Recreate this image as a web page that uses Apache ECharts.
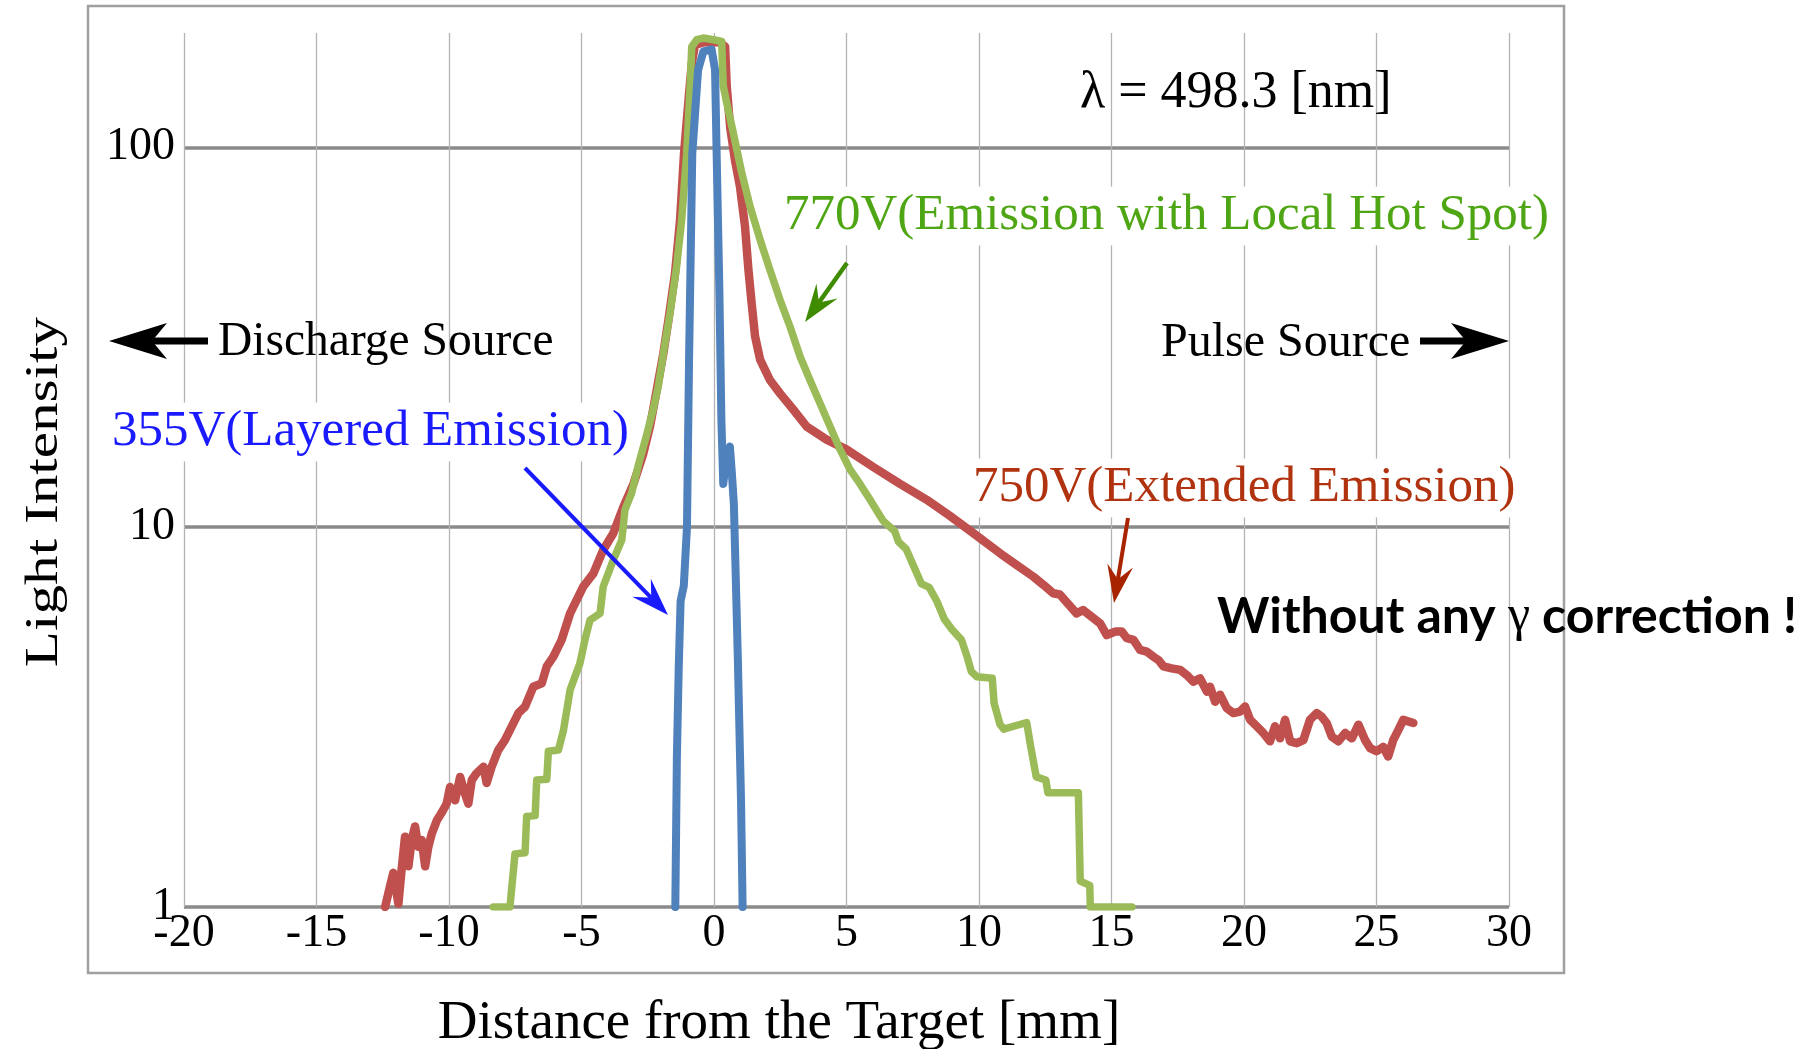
<!DOCTYPE html>
<html>
<head>
<meta charset="utf-8">
<title>Light Intensity vs Distance from the Target</title>
<script src="https://cdn.jsdelivr.net/npm/echarts@6/dist/echarts.min.js"></script>
<style>
  html, body { margin: 0; padding: 0; background: #fff; }
  #chart { width: 1807px; height: 1049px; }
</style>
</head>
<body>
<div id="chart"></div>
<script>
// distance from the target [mm] / light intensity (log scale)
const xRange = [-20, 30];
const xStep = 5;
const yRange = [1, 200];
const yTicks = [1, 10, 100];

// 750V (Extended Emission)
const red750 = [
  [-12.41, 1.00], [-12.23, 1.13], [-12.10, 1.23], [-11.91, 1.02], [-11.79, 1.25],
  [-11.66, 1.53], [-11.53, 1.28], [-11.41, 1.50], [-11.28, 1.63], [-11.16, 1.44],
  [-11.03, 1.50], [-10.90, 1.28], [-10.78, 1.44], [-10.65, 1.56], [-10.46, 1.69],
  [-10.28, 1.77], [-10.09, 1.87], [-9.96, 2.07], [-9.77, 1.91], [-9.58, 2.20],
  [-9.40, 1.99], [-9.27, 1.87], [-9.14, 2.16], [-8.96, 2.25], [-8.70, 2.34],
  [-8.58, 2.12], [-8.39, 2.34], [-8.14, 2.59], [-7.89, 2.75], [-7.63, 2.99],
  [-7.38, 3.24], [-7.13, 3.37], [-6.82, 3.80], [-6.50, 3.88], [-6.31, 4.30],
  [-6.06, 4.56], [-5.75, 5.05], [-5.43, 5.93], [-4.93, 6.98], [-4.55, 7.56],
  [-4.18, 8.71], [-3.80, 9.64], [-3.42, 11.3], [-3.04, 13.0], [-2.67, 15.6],
  [-2.41, 18.5], [-2.16, 23.0], [-1.91, 28.7], [-1.72, 35.1], [-1.47, 46.6],
  [-1.28, 64.4], [-1.13, 96.5], [-0.97, 131], [-0.84, 166], [-0.72, 186],
  [-0.40, 189], [0.23, 189], [0.42, 184], [0.48, 145], [0.61, 113],
  [0.79, 92.7], [0.98, 78.9], [1.17, 61.9], [1.30, 47.6], [1.42, 38.9],
  [1.55, 31.8], [1.74, 27.6], [2.11, 24.4], [2.49, 22.5], [2.99, 20.4],
  [3.50, 18.4], [4.25, 17.0], [5.01, 16.0], [6.01, 14.4], [7.02, 13.0],
  [8.03, 11.8], [8.91, 10.7], [9.79, 9.64], [10.79, 8.54], [11.42, 7.95],
  [12.05, 7.41], [12.43, 7.05], [12.80, 6.70], [13.05, 6.65], [13.68, 5.93],
  [13.93, 6.05], [14.57, 5.58], [14.82, 5.20], [15.14, 5.31], [15.39, 5.31],
  [15.58, 5.10], [15.83, 5.05], [16.08, 4.75], [16.33, 4.70], [16.58, 4.56],
  [16.77, 4.47], [16.96, 4.30], [17.27, 4.25], [17.59, 4.21], [17.84, 4.08],
  [18.09, 3.92], [18.34, 4.00], [18.60, 3.69], [18.72, 3.80], [18.91, 3.47],
  [19.10, 3.62], [19.35, 3.34], [19.60, 3.24], [19.85, 3.27], [20.04, 3.37],
  [20.23, 3.11], [20.48, 2.99], [20.73, 2.87], [20.98, 2.73], [21.17, 2.99],
  [21.36, 2.78], [21.55, 3.11], [21.74, 2.73], [21.99, 2.70], [22.24, 2.75],
  [22.49, 3.11], [22.75, 3.24], [22.93, 3.17], [23.12, 3.05], [23.31, 2.81],
  [23.56, 2.73], [23.82, 2.87], [24.07, 2.78], [24.32, 3.02], [24.57, 2.75],
  [24.76, 2.62], [25.00, 2.57], [25.26, 2.64], [25.44, 2.49], [25.63, 2.75],
  [25.82, 2.92], [26.01, 3.11], [26.39, 3.05]
];

// 770V (Emission with Local Hot Spot)
const green770 = [
  [-8.33, 1.00], [-7.70, 1.00], [-7.51, 1.38], [-7.13, 1.39], [-7.07, 1.73],
  [-6.75, 1.74], [-6.69, 2.16], [-6.31, 2.17], [-6.25, 2.57], [-5.87, 2.59],
  [-5.68, 2.92], [-5.43, 3.73], [-5.06, 4.38], [-4.87, 5.05], [-4.68, 5.69],
  [-4.30, 5.93], [-4.18, 6.98], [-3.99, 7.56], [-3.80, 8.20], [-3.48, 9.25],
  [-3.36, 11.1], [-3.11, 12.3], [-2.85, 14.6], [-2.54, 17.5], [-2.29, 20.5],
  [-2.10, 23.5], [-1.91, 28.7], [-1.66, 36.6], [-1.41, 48.6], [-1.22, 64.4],
  [-1.03, 96.5], [-0.90, 145], [-0.84, 184], [-0.65, 192], [-0.40, 194],
  [-0.02, 192], [0.29, 190], [0.35, 145], [0.48, 131], [0.73, 109],
  [1.05, 85.5], [1.36, 69.9], [1.74, 57.1], [2.11, 47.6], [2.49, 39.7],
  [2.87, 33.7], [3.25, 28.1], [3.62, 24.4], [4.00, 21.2], [4.38, 18.4],
  [4.76, 16.0], [5.13, 14.2], [5.51, 13.0], [5.89, 11.8], [6.38, 10.4],
  [6.82, 9.75], [6.96, 9.15], [7.25, 8.76], [7.54, 7.88], [7.83, 7.09],
  [8.12, 6.94], [8.41, 6.38], [8.69, 5.73], [8.98, 5.38], [9.34, 5.05],
  [9.56, 4.54], [9.71, 4.17], [9.92, 4.04], [10.50, 4.00], [10.57, 3.44],
  [10.79, 3.03], [10.93, 2.94], [11.80, 3.06], [11.94, 2.67], [12.16, 2.20],
  [12.52, 2.16], [12.60, 2.00], [13.75, 2.00], [13.82, 1.17], [14.18, 1.14],
  [14.20, 1.00], [15.77, 1.00]
];

// 355V (Layered Emission)
const blue355 = [
  [-1.46, 1.00], [-1.40, 2.5], [-1.33, 4.3], [-1.26, 6.4], [-1.14, 7.0],
  [-1.02, 10.0], [-0.94, 28.0], [-0.82, 96.0], [-0.60, 160], [-0.40, 179],
  [-0.09, 181], [0.04, 160], [0.10, 96.0], [0.20, 43.0], [0.28, 19.0],
  [0.35, 13.0], [0.45, 15.0], [0.60, 16.3], [0.67, 14.0], [0.75, 11.5],
  [0.90, 4.5], [1.02, 1.9], [1.08, 1.00]
];

const serif = '"Liberation Serif", "Times New Roman", serif';

// arrow head polygon: tip, direction from `from`, length, half width, notch depth
function arrowHead(from, tip, len, half, notch) {
  const dx = tip[0] - from[0], dy = tip[1] - from[1];
  const d = Math.hypot(dx, dy);
  const ux = dx / d, uy = dy / d;
  const bx = tip[0] - ux * len, by = tip[1] - uy * len;
  return [
    tip,
    [bx - uy * half, by + ux * half],
    [tip[0] - ux * notch, tip[1] - uy * notch],
    [bx + uy * half, by - ux * half]
  ];
}

function arrow(from, tip, color, width, len, half, notch) {
  const d = Math.hypot(tip[0] - from[0], tip[1] - from[1]);
  const k = (d - notch) / d;
  const end = [from[0] + (tip[0] - from[0]) * k, from[1] + (tip[1] - from[1]) * k];
  return [
    { type: 'line', z: 20, shape: { x1: from[0], y1: from[1], x2: end[0], y2: end[1] },
      style: { stroke: color, lineWidth: width } },
    { type: 'polygon', z: 20, shape: { points: arrowHead(from, tip, len, half, notch) },
      style: { fill: color } }
  ];
}

function label(x, y, text, size, color, bg) {
  const style = {
    text: text, fill: color, font: size + 'px ' + serif,
    align: 'left', verticalAlign: 'middle', textAlign: 'left', textVerticalAlign: 'middle'
  };
  if (bg) { style.backgroundColor = '#fff'; style.padding = [4, 4]; }
  return { type: 'text', z: 15, x: bg ? x - 4 : x, y: y, style: style };
}

const chart = echarts.init(document.getElementById('chart'));

const option = {
  backgroundColor: '#fff',
  animation: false,
  grid: { left: 184, right: 298, top: 33, bottom: 142, containLabel: false, outerBoundsMode: 'none' },
  xAxis: {
    type: 'value', min: xRange[0], max: xRange[1], interval: xStep,
    axisLine: { show: false }, axisTick: { show: false },
    axisLabel: { fontFamily: serif, fontSize: 46, color: '#000', margin: 4 },
    splitLine: { show: true, lineStyle: { color: '#b3b3b3', width: 1.3 } }
  },
  yAxis: {
    type: 'log', logBase: 10, min: yRange[0], max: yRange[1],
    axisLine: { show: false }, axisTick: { show: false },
    axisLabel: {
      fontFamily: serif, fontSize: 46, color: '#000', margin: 9, showMaxLabel: false,
      formatter: v => {
        const r = Math.round(v);
        return (yTicks.indexOf(r) >= 0 && Math.abs(v - r) < 1e-6) ? String(r) : '';
      }
    },
    splitLine: { show: true, showMaxLine: false, lineStyle: { color: '#8a8a8a', width: 3.5 } }
  },
  series: [
    { name: '750V(Extended Emission)', type: 'line', data: red750, symbol: 'none', z: 3,
      lineStyle: { color: '#c0504d', width: 8.5, cap: 'round', join: 'round' } },
    { name: '770V(Emission with Local Hot Spot)', type: 'line', data: green770, symbol: 'none', z: 4,
      lineStyle: { color: '#9bbb59', width: 7.5, cap: 'round', join: 'round' } },
    { name: '355V(Layered Emission)', type: 'line', data: blue355, symbol: 'none', z: 5,
      lineStyle: { color: '#4f81bd', width: 8, cap: 'round', join: 'round' } }
  ],
  graphic: [
    { type: 'rect', z: 0, shape: { x: 88, y: 6, width: 1476, height: 967 },
      style: { fill: 'none', stroke: '#a0a0a0', lineWidth: 2.5 } },
    label(1080, 93, 'λ = 498.3 [nm]', 52, '#000', false),
    label(784, 216, '770V(Emission with Local Hot Spot)', 51, '#4fa614', true),
    label(218, 343, 'Discharge Source', 47.5, '#000', false),
    label(1161, 343, 'Pulse Source', 48, '#000', false),
    label(112, 432, '355V(Layered Emission)', 51, '#1a1aff', true),
    label(973, 488, '750V(Extended Emission)', 51, '#b0320e', true),
    {
      type: 'text', z: 15, x: 1217, y: 617,
      style: {
        text: '{a|Without any }{g|γ}{a| correction !}',
        verticalAlign: 'middle', textVerticalAlign: 'middle',
        rich: {
          a: { fontFamily: 'Lato', fontWeight: 'bold', fontSize: 50, fill: '#000' },
          g: { fontFamily: serif, fontSize: 50, fill: '#000' }
        }
      }
    },
    { type: 'text', z: 15, x: 779, y: 1024,
      style: { text: 'Distance from the Target [mm]', font: '55px ' + serif, fill: '#000',
        align: 'center', verticalAlign: 'middle', textAlign: 'center', textVerticalAlign: 'middle' } },
    { type: 'text', z: 15, x: 45, y: 492, rotation: Math.PI / 2, scaleX: 1.26,
      style: { text: 'Light Intensity', font: '47px ' + serif, fill: '#000',
        align: 'center', verticalAlign: 'middle', textAlign: 'center', textVerticalAlign: 'middle' } }
  ]
    .concat(arrow([208, 341], [109, 341], '#000', 7, 58, 18, 43))
    .concat(arrow([1420, 341], [1509, 341], '#000', 7, 58, 18, 43))
    .concat(arrow([525, 468], [668, 615], '#1a1aff', 4, 38, 13, 24))
    .concat(arrow([847, 263], [805, 322], '#3f8c00', 4.5, 38, 13, 24))
    .concat(arrow([1128, 518], [1114, 603], '#a82400', 4, 38, 13, 24))
};

chart.setOption(option);
</script>
</body>
</html>
